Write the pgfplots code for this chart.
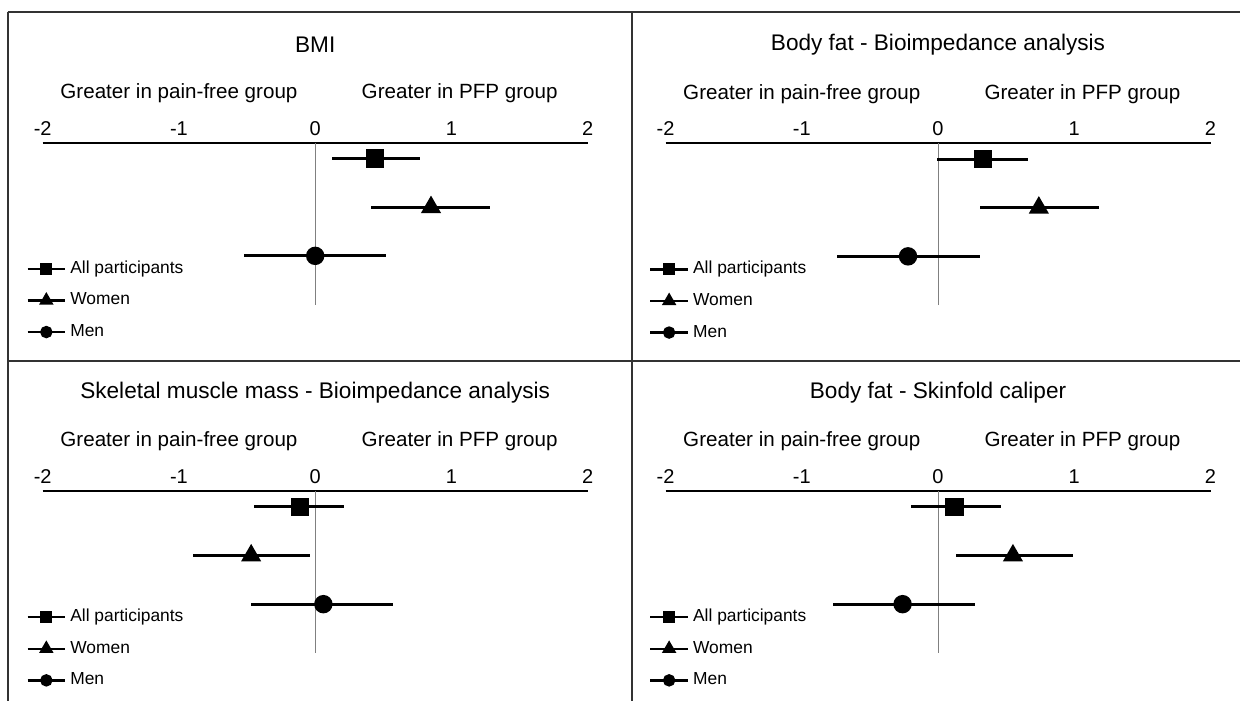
\documentclass[border=0pt]{standalone}
\usepackage{fontspec}
\setmainfont{Liberation Sans}
\usepackage{pgfplots}
\pgfplotsset{compat=1.18}

\pgfplotsset{
  forest/.style={
    scale only axis,
    width=272.5pt, height=81pt,
    xmin=-2, xmax=2, ymin=0, ymax=3.33,
    axis x line=top,
    axis y line=none,
    axis line style={line width=1pt, black, -},
    xtick={-2,-1,0,1,2},
    major tick length=0pt,
    ytick=\empty,
    clip=false,
    anchor=north west,
    /pgf/number format/assume math mode=true,
    xticklabel style={font=\fontsize{10}{12}\selectfont, yshift=0pt},
    legend cell align=left,
    legend image code/.code={
      \draw[mark repeat=2,mark phase=2] plot coordinates {(0cm,0cm) (0.33cm,0cm) (0.66cm,0cm)};
    },
    legend style={draw=none, fill=none, inner sep=0pt, outer sep=0pt,
      at={(rel axis cs:-0.03,0.025)}, anchor=west,
      font=\fontsize{8.7}{10}\selectfont,
      row sep=3.7pt,
      nodes={inner sep=2pt, text height=6.3pt, text depth=1.8pt}},
    every axis plot/.append style={
      black, line width=1.2pt,
      error bars/x dir=both, error bars/x explicit,
      error bars/error mark=none,
      error bars/error bar style={line width=1.5pt, black},
    },
  },
  sq/.style={mark=square*, mark size=4pt, mark options={solid}, legend image post style={mark size=2.4pt}},
  tri/.style={mark=triangle*, mark size=4.6pt, mark options={solid}, legend image post style={mark size=3pt}},
  cir/.style={mark=*, mark size=4pt, mark options={solid}, legend image post style={mark size=2.5pt}},
}

\newcommand{\paneldecor}[1]{%
  \addplot[gray, line width=0.5pt, mark=none, forget plot] coordinates {(0,0) (0,3.33)};
  \node[font=\fontsize{11.3}{13}\selectfont] at (rel axis cs:0.5,1) [yshift=49pt] {#1};
  \node[font=\fontsize{10.3}{12}\selectfont] at (axis cs:-1,3.33) [yshift=24.6pt] {Greater in pain-free group};
  \node[font=\fontsize{10.3}{12}\selectfont] at (axis cs:1.06,3.33) [yshift=24.6pt] {Greater in PFP group};
}

\begin{document}
\begin{tikzpicture}
\useasboundingbox (0pt,0pt) rectangle (620pt,-350.5pt);
% frame
\draw[line width=1pt, black!80] (3.75pt,-6pt) -- (620pt,-6pt);
\draw[line width=1pt, black!80] (3.75pt,-6pt) -- (3.75pt,-350.5pt);
\draw[line width=1pt, black!80] (315.9pt,-6pt) -- (315.9pt,-350.5pt);
\draw[line width=1pt, black!80] (3.75pt,-180.3pt) -- (620pt,-180.3pt);

% Panel 1: BMI
\begin{axis}[forest, at={(21.35pt,-71.25pt)}]
\paneldecor{BMI}
\addplot[sq] coordinates {(0.44,3) += (0.33,0) -= (0.32,0)};
\addplot[tri] coordinates {(0.85,2) += (0.43,0) -= (0.44,0)};
\addplot[cir] coordinates {(0.00,1) += (0.52,0) -= (0.52,0)};
\legend{All participants, Women, Men}
\end{axis}

% Panel 2: Body fat - BIA
\begin{axis}[forest, at={(332.75pt,-71.5pt)}]
\paneldecor{Body fat - Bioimpedance analysis}
\addplot[sq] coordinates {(0.33,3) += (0.33,0) -= (0.34,0)};
\addplot[tri] coordinates {(0.74,2) += (0.44,0) -= (0.43,0)};
\addplot[cir] coordinates {(-0.22,1) += (0.53,0) -= (0.52,0)};
\legend{All participants, Women, Men}
\end{axis}

% Panel 3: Skeletal muscle mass
\begin{axis}[forest, at={(21.35pt,-245.4pt)}]
\paneldecor{Skeletal muscle mass - Bioimpedance analysis}
\addplot[sq] coordinates {(-0.11,3) += (0.32,0) -= (0.34,0)};
\addplot[tri] coordinates {(-0.47,2) += (0.43,0) -= (0.43,0)};
\addplot[cir] coordinates {(0.06,1) += (0.51,0) -= (0.53,0)};
\legend{All participants, Women, Men}
\end{axis}

% Panel 4: Body fat - Skinfold
\begin{axis}[forest, at={(332.75pt,-245.4pt)}]
\paneldecor{Body fat - Skinfold caliper}
\addplot[sq] coordinates {(0.12,3) += (0.34,0) -= (0.32,0)};
\addplot[tri] coordinates {(0.55,2) += (0.44,0) -= (0.42,0)};
\addplot[cir] coordinates {(-0.26,1) += (0.53,0) -= (0.51,0)};
\legend{All participants, Women, Men}
\end{axis}
\end{tikzpicture}
\end{document}
